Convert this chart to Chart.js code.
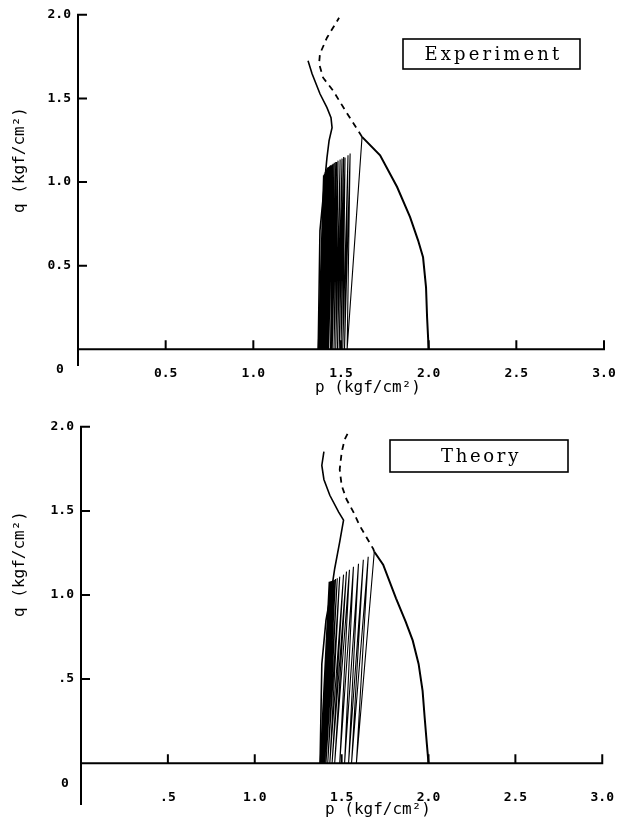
<!DOCTYPE html>
<html>
<head>
<meta charset="utf-8">
<script src="https://cdn.jsdelivr.net/npm/chart.js@4/dist/chart.umd.min.js"></script>
<style>
body { margin: 0; background: #fff; width: 624px; height: 824px; overflow: hidden; position: relative; }
canvas { position: absolute; left: 0; }
#chart-top { top: 0; }
#chart-bottom { top: 412px; }
</style>
</head>
<body>
<canvas id="chart-top" width="624" height="412"></canvas>
<canvas id="chart-bottom" width="624" height="412"></canvas>
<script>
// axis ticks
const xTickValues = [0.5, 1.0, 1.5, 2.0, 2.5, 3.0];
const xTickLabelsTop = ['0.5', '1.0', '1.5', '2.0', '2.5', '3.0'];
const xTickLabelsBottom = ['.5', '1.0', '1.5', '2.0', '2.5', '3.0'];
const yTickValues = [0.5, 1.0, 1.5, 2.0];
const yTickLabelsTop = ['0.5', '1.0', '1.5', '2.0'];
const yTickLabelsBottom = ['.5', '1.0', '1.5', '2.0'];

// Experiment: monotonic path
const expMonoP = [2.0, 1.991, 1.985, 1.968, 1.94, 1.894, 1.82, 1.723, 1.62];
const expMonoQ = [0, 0.19, 0.37, 0.55, 0.65, 0.79, 0.97, 1.16, 1.27];
// Experiment: dashed continuation
const expDashP = [1.62, 1.535, 1.455, 1.398, 1.375, 1.38, 1.42, 1.489];
const expDashQ = [1.27, 1.41, 1.546, 1.624, 1.707, 1.767, 1.863, 1.982];
// Experiment: cyclic loading, peak and valley of each cycle
const expPeakP = [1.62, 1.552, 1.54, 1.523, 1.515, 1.506, 1.495, 1.483, 1.475, 1.47, 1.462, 1.455, 1.45, 1.445,
    1.44, 1.438, 1.434, 1.43, 1.427, 1.425, 1.422, 1.42, 1.417, 1.415, 1.412, 1.41, 1.405, 1.40];
const expPeakQ = [1.27, 1.17, 1.16, 1.146, 1.15, 1.14, 1.135, 1.128, 1.12, 1.12, 1.115, 1.11, 1.105, 1.10,
    1.10, 1.098, 1.095, 1.09, 1.088, 1.087, 1.085, 1.08, 1.075, 1.07, 1.065, 1.06, 1.05, 1.04];
const expValleyP = [1.535, 1.52, 1.51, 1.50, 1.49, 1.48, 1.47, 1.46, 1.45, 1.445, 1.44, 1.43, 1.425, 1.42,
    1.415, 1.41, 1.405, 1.40, 1.398, 1.395, 1.392, 1.39, 1.387, 1.385, 1.38, 1.378, 1.375, 1.37];
// Experiment: final path to failure
const expFailP = [1.37, 1.38, 1.42, 1.432, 1.449, 1.443, 1.42, 1.38, 1.335, 1.312];
const expFailQ = [0, 0.71, 1.146, 1.248, 1.325, 1.385, 1.445, 1.528, 1.648, 1.725];

// Theory: monotonic path
const thMonoP = [2.0, 1.99, 1.978, 1.966, 1.943, 1.909, 1.869, 1.813, 1.739, 1.688];
const thMonoQ = [0, 0.12, 0.27, 0.43, 0.59, 0.73, 0.84, 0.98, 1.18, 1.257];
// Theory: dashed continuation
const thDashP = [1.688, 1.682, 1.642, 1.602, 1.568, 1.528, 1.5, 1.489, 1.5, 1.517, 1.545];
const thDashQ = [1.257, 1.274, 1.345, 1.416, 1.493, 1.569, 1.652, 1.746, 1.847, 1.923, 1.982];
// Theory: cyclic loading
const thPeakP = [1.688, 1.653, 1.625, 1.597, 1.568, 1.545, 1.528, 1.511, 1.489, 1.475, 1.465, 1.458, 1.452,
    1.447, 1.443, 1.44, 1.437, 1.435, 1.433, 1.431, 1.43, 1.428];
const thPeakQ = [1.257, 1.227, 1.209, 1.186, 1.168, 1.150, 1.139, 1.121, 1.109, 1.10, 1.095, 1.09, 1.087,
    1.085, 1.083, 1.082, 1.081, 1.08, 1.08, 1.079, 1.079, 1.078];
const thValleyP = [1.585, 1.557, 1.54, 1.517, 1.489, 1.46, 1.445, 1.432, 1.42, 1.41, 1.403, 1.398, 1.394,
    1.39, 1.387, 1.385, 1.382, 1.38, 1.379, 1.378, 1.377, 1.376];
// Theory: final path to failure
const thFailP = [1.376, 1.386, 1.41, 1.443, 1.46, 1.489, 1.511, 1.483, 1.432, 1.398, 1.386, 1.398];
const thFailQ = [0, 0.59, 0.85, 1.038, 1.156, 1.316, 1.445, 1.493, 1.593, 1.687, 1.77, 1.853];

function pts(ps, qs) {
    return ps.map((p, i) => ({ x: p, y: qs[i] }));
}

function cyclePts(peakP, peakQ, valleyP) {
    const out = [];
    peakP.forEach((p, i) => {
        out.push({ x: p, y: peakQ[i] });
        out.push({ x: valleyP[i], y: 0 });
    });
    return out;
}

function line(data, width, dash) {
    return {
        data: data,
        showLine: true,
        borderColor: '#000',
        borderWidth: width,
        borderDash: dash || [],
        pointRadius: 0,
        fill: false,
        tension: 0
    };
}

// axes, ticks, titles and the label box
const framePlugin = {
    id: 'frame',
    afterDraw(chart, args, o) {
        const ctx = chart.ctx;
        const xs = chart.scales.x, ys = chart.scales.y;
        const x0 = xs.getPixelForValue(0), x3 = xs.getPixelForValue(3);
        const y0 = ys.getPixelForValue(0), y2 = ys.getPixelForValue(2);
        ctx.save();
        ctx.strokeStyle = '#000';
        ctx.fillStyle = '#000';
        ctx.lineWidth = 2;
        ctx.beginPath();
        ctx.moveTo(x0, y2 - 1);
        ctx.lineTo(x0, chart.chartArea.bottom + o.tail);
        ctx.moveTo(x0, y0);
        ctx.lineTo(x3 + 1, y0);
        xTickValues.forEach(v => {
            const px = xs.getPixelForValue(v);
            ctx.moveTo(px, y0);
            ctx.lineTo(px, y0 - 9);
        });
        yTickValues.forEach(v => {
            const py = ys.getPixelForValue(v);
            ctx.moveTo(x0, py);
            ctx.lineTo(x0 + 9, py);
        });
        ctx.stroke();

        ctx.textAlign = 'center';
        ctx.textBaseline = 'middle';
        ctx.font = 'bold 13px "DejaVu Sans Mono"';
        ctx.fillText('0', x0 - o.zeroDx, y0 + o.zeroDy);

        ctx.font = '16px "DejaVu Sans Mono"';
        ctx.fillText('p (kgf/cm²)', o.xTitle[0], o.xTitle[1]);
        ctx.save();
        ctx.translate(o.yTitle[0], o.yTitle[1]);
        ctx.rotate(-Math.PI / 2);
        ctx.fillText('q (kgf/cm²)', 0, 0);
        ctx.restore();

        const b = o.box;
        ctx.lineWidth = 1.6;
        ctx.strokeRect(b[0], b[1], b[2], b[3]);
        ctx.font = '18px "DejaVu Serif"';
        const w = ctx.measureText(o.label).width;
        ctx.letterSpacing = Math.max(0, (o.labelWidth - w) / o.label.length).toFixed(2) + 'px';
        ctx.fillText(o.label, b[0] + b[2] / 2 + 2, b[1] + b[3] / 2 + 1);
        ctx.restore();
    }
};

function makeChart(id, sets, xLabels, yLabels, geo) {
    return new Chart(document.getElementById(id), {
        type: 'scatter',
        data: { datasets: sets },
        options: {
            responsive: false,
            animation: false,
            layout: { padding: { top: geo.top, right: geo.right, left: 0, bottom: 0 } },
            plugins: {
                legend: { display: false },
                tooltip: { enabled: false },
                frame: geo.frame
            },
            scales: {
                x: {
                    type: 'linear',
                    min: 0,
                    max: 3,
                    border: { display: false },
                    grid: { display: false, drawTicks: false },
                    afterBuildTicks: s => { s.ticks = xTickValues.map(v => ({ value: v })); },
                    afterFit: s => { s.height = geo.xHeight; },
                    ticks: {
                        autoSkip: false,
                        maxRotation: 0,
                        padding: geo.xPad,
                        color: '#000',
                        font: { family: 'DejaVu Sans Mono', size: 13, weight: 'bold' },
                        callback: (v, i) => xLabels[i]
                    }
                },
                y: {
                    type: 'linear',
                    min: -0.1,
                    max: 2.0,
                    border: { display: false },
                    grid: { display: false, drawTicks: false },
                    afterBuildTicks: s => { s.ticks = yTickValues.map(v => ({ value: v })); },
                    afterFit: s => { s.width = geo.yWidth; },
                    ticks: {
                        padding: 7,
                        color: '#000',
                        font: { family: 'DejaVu Sans Mono', size: 13, weight: 'bold' },
                        callback: (v, i) => yLabels[i]
                    }
                }
            }
        },
        plugins: [framePlugin]
    });
}

const chartTop = makeChart('chart-top', [
    line(pts(expMonoP, expMonoQ), 2),
    line(pts(expDashP, expDashQ), 1.8, [6, 5]),
    line(cyclePts(expPeakP, expPeakQ, expValleyP), 1.1),
    line(pts(expFailP, expFailQ), 1.6)
], xTickLabelsTop, yTickLabelsTop, {
    top: 14, right: 20, xHeight: 46, yWidth: 78, xPad: 0,
    frame: {
        tail: 0, zeroDx: 18, zeroDy: 20,
        xTitle: [368, 388], yTitle: [20, 160],
        box: [403, 39, 177, 30], label: 'Experiment', labelWidth: 138
    }
});

const chartBottom = makeChart('chart-bottom', [
    line(pts(thMonoP, thMonoQ), 2),
    line(pts(thDashP, thDashQ), 1.8, [6, 5]),
    line(cyclePts(thPeakP, thPeakQ, thValleyP), 1.1),
    line(pts(thFailP, thFailQ), 1.6)
], xTickLabelsBottom, yTickLabelsBottom, {
    top: 12, right: 15, xHeight: 44, yWidth: 81, xPad: 10,
    frame: {
        tail: 25, zeroDx: 16, zeroDy: 20,
        xTitle: [378, 398], yTitle: [20, 152],
        box: [390, 28, 178, 32], label: 'Theory', labelWidth: 80
    }
});
</script>
</body>
</html>
